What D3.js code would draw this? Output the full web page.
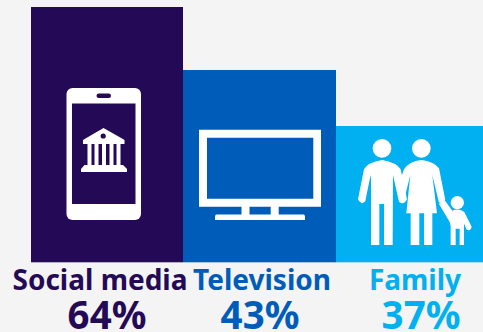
<!DOCTYPE html>
<html>
<head>
<meta charset="utf-8">
<script src="https://cdn.jsdelivr.net/npm/d3@7"></script>
<style>
  html, body { margin: 0; padding: 0; background: #f4f4f4; overflow: hidden; }
  svg { display: block; }
  text { font-family: "Noto Sans", "Open Sans", sans-serif; font-weight: 700; text-anchor: middle; }
</style>
</head>
<body>
<script>
// Survey shares
const categories = ["Social media", "Television", "Family"];
const shares = [64, 43, 37];
const colours = ["#240a56", "#005cb9", "#00b0f0"];

const width = 483, height = 332;
const baseline = 262.3;

// Bars sit edge to edge with slightly different widths, so edges are mapped per category
const leftEdge = d3.scaleOrdinal().domain(categories).range([31, 183, 336]);
const rightEdge = d3.scaleOrdinal().domain(categories).range([183, 336, 483]);
const y = d3.scaleLinear().domain([0, 37, 43, 64]).range([baseline, 126, 70, 7]);
const colour = d3.scaleOrdinal().domain(categories).range(colours);

// Label nudges relative to each bar centre
const nameShift = d3.scaleOrdinal().domain(categories).range([-7, 2.5, 5.5]);
const shareShift = d3.scaleOrdinal().domain(categories).range([0, 0.5, 11.5]);

const rows = categories.map((name, i) => ({ name, share: shares[i] }));
const centre = d => (leftEdge(d.name) + rightEdge(d.name)) / 2;

const svg = d3.select("body").append("svg").attr("width", width).attr("height", height);
svg.append("rect").attr("width", width).attr("height", height).attr("fill", "#f4f4f4");

svg.selectAll("rect.bar").data(rows).join("rect")
  .attr("class", "bar")
  .attr("x", d => leftEdge(d.name))
  .attr("y", d => y(d.share))
  .attr("width", d => rightEdge(d.name) - leftEdge(d.name))
  .attr("height", d => baseline - y(d.share))
  .attr("fill", d => colour(d.name));

svg.selectAll("text.name").data(rows).join("text")
  .attr("class", "name")
  .attr("x", d => centre(d) + nameShift(d.name))
  .attr("y", 290)
  .attr("font-size", 28)
  .attr("fill", d => colour(d.name))
  .text(d => d.name);

svg.selectAll("text.share").data(rows).join("text")
  .attr("class", "share")
  .attr("x", d => centre(d) + shareShift(d.name))
  .attr("y", 329)
  .attr("font-size", 38.5)
  .attr("fill", d => colour(d.name))
  .text(d => d.share + "%");

// Phone with a bank on its screen
const phone = svg.append("g");
phone.append("rect").attr("x", 66.5).attr("y", 88).attr("width", 74.5).attr("height", 132).attr("rx", 6).attr("fill", "#fff");
phone.append("rect").attr("x", 72).attr("y", 103.5).attr("width", 63.5).attr("height", 100.5).attr("fill", colours[0]);
phone.append("rect").attr("x", 96.5).attr("y", 93.5).attr("width", 14.5).attr("height", 4.5).attr("rx", 2.25).attr("fill", colours[0]);
phone.append("path").attr("fill", "#fff").attr("d",
  "M103.5 128 L122 138.5 L124.5 140 V144 H83 V140 L85.5 138.5 Z" +
  "M87.5 144 H91.5 V165 H87.5 Z M94.5 144 H98.5 V165 H94.5 Z M102 144 H106 V165 H102 Z" +
  "M109.5 144 H113.5 V165 H109.5 Z M116.5 144 H120.5 V165 H116.5 Z" +
  "M84.5 165 H123 L127 169 V172 H81 V169 Z");
phone.append("circle").attr("cx", 103.2).attr("cy", 136).attr("r", 2.6).attr("fill", colours[0]);

// Television
const tv = svg.append("g").attr("fill", "#fff");
tv.append("path").attr("fill-rule", "evenodd")
  .attr("d", "M199 129.7 H321 V206.7 H199 Z M207 137.7 V198.7 H313.3 V137.7 Z");
tv.append("rect").attr("x", 241.5).attr("y", 206).attr("width", 8).attr("height", 10);
tv.append("rect").attr("x", 270.7).attr("y", 206).attr("width", 8).attr("height", 10);
tv.append("path").attr("d", "M216 214.5 H304 L305 216 V220 H215 V216 Z");

// Family, drawn in a 3x grid and scaled down into the third bar
const family = svg.append("g").attr("transform", "translate(333,120) scale(0.3333)").attr("fill", "#fff");
family.append("circle").attr("cx", 147).attr("cy", 85).attr("r", 28);
family.append("circle").attr("cx", 265).attr("cy", 85).attr("r", 28);
family.append("circle").attr("cx", 373).attr("cy", 248).attr("r", 20);
family.append("path").attr("d",
  "M114 375 V178 L113 165 L97 243 Q86 258 75 238 L93 148 Q104 127 147 120 Q190 127 203 148 L222 238 Q212 258 198 245 L180 165 L179 375 H153 V252 H139 V375 Z");
family.append("path").attr("d",
  "M265 120 Q302 124 318 145 L337 240 L318 248 L298 165 L312 280 H298 V375 H273 V280 H259 V375 H233 V280 H220 L232 165 L212 245 L205 170 L213 148 Q228 124 265 120 Z");
family.append("path").attr("d",
  "M353 375 V318 L350 306 L318 252 L332 236 L358 272 Q376 264 394 276 L416 320 Q412 336 400 328 L393 310 V375 H380 V326 H368 V375 Z");
</script>
</body>
</html>
